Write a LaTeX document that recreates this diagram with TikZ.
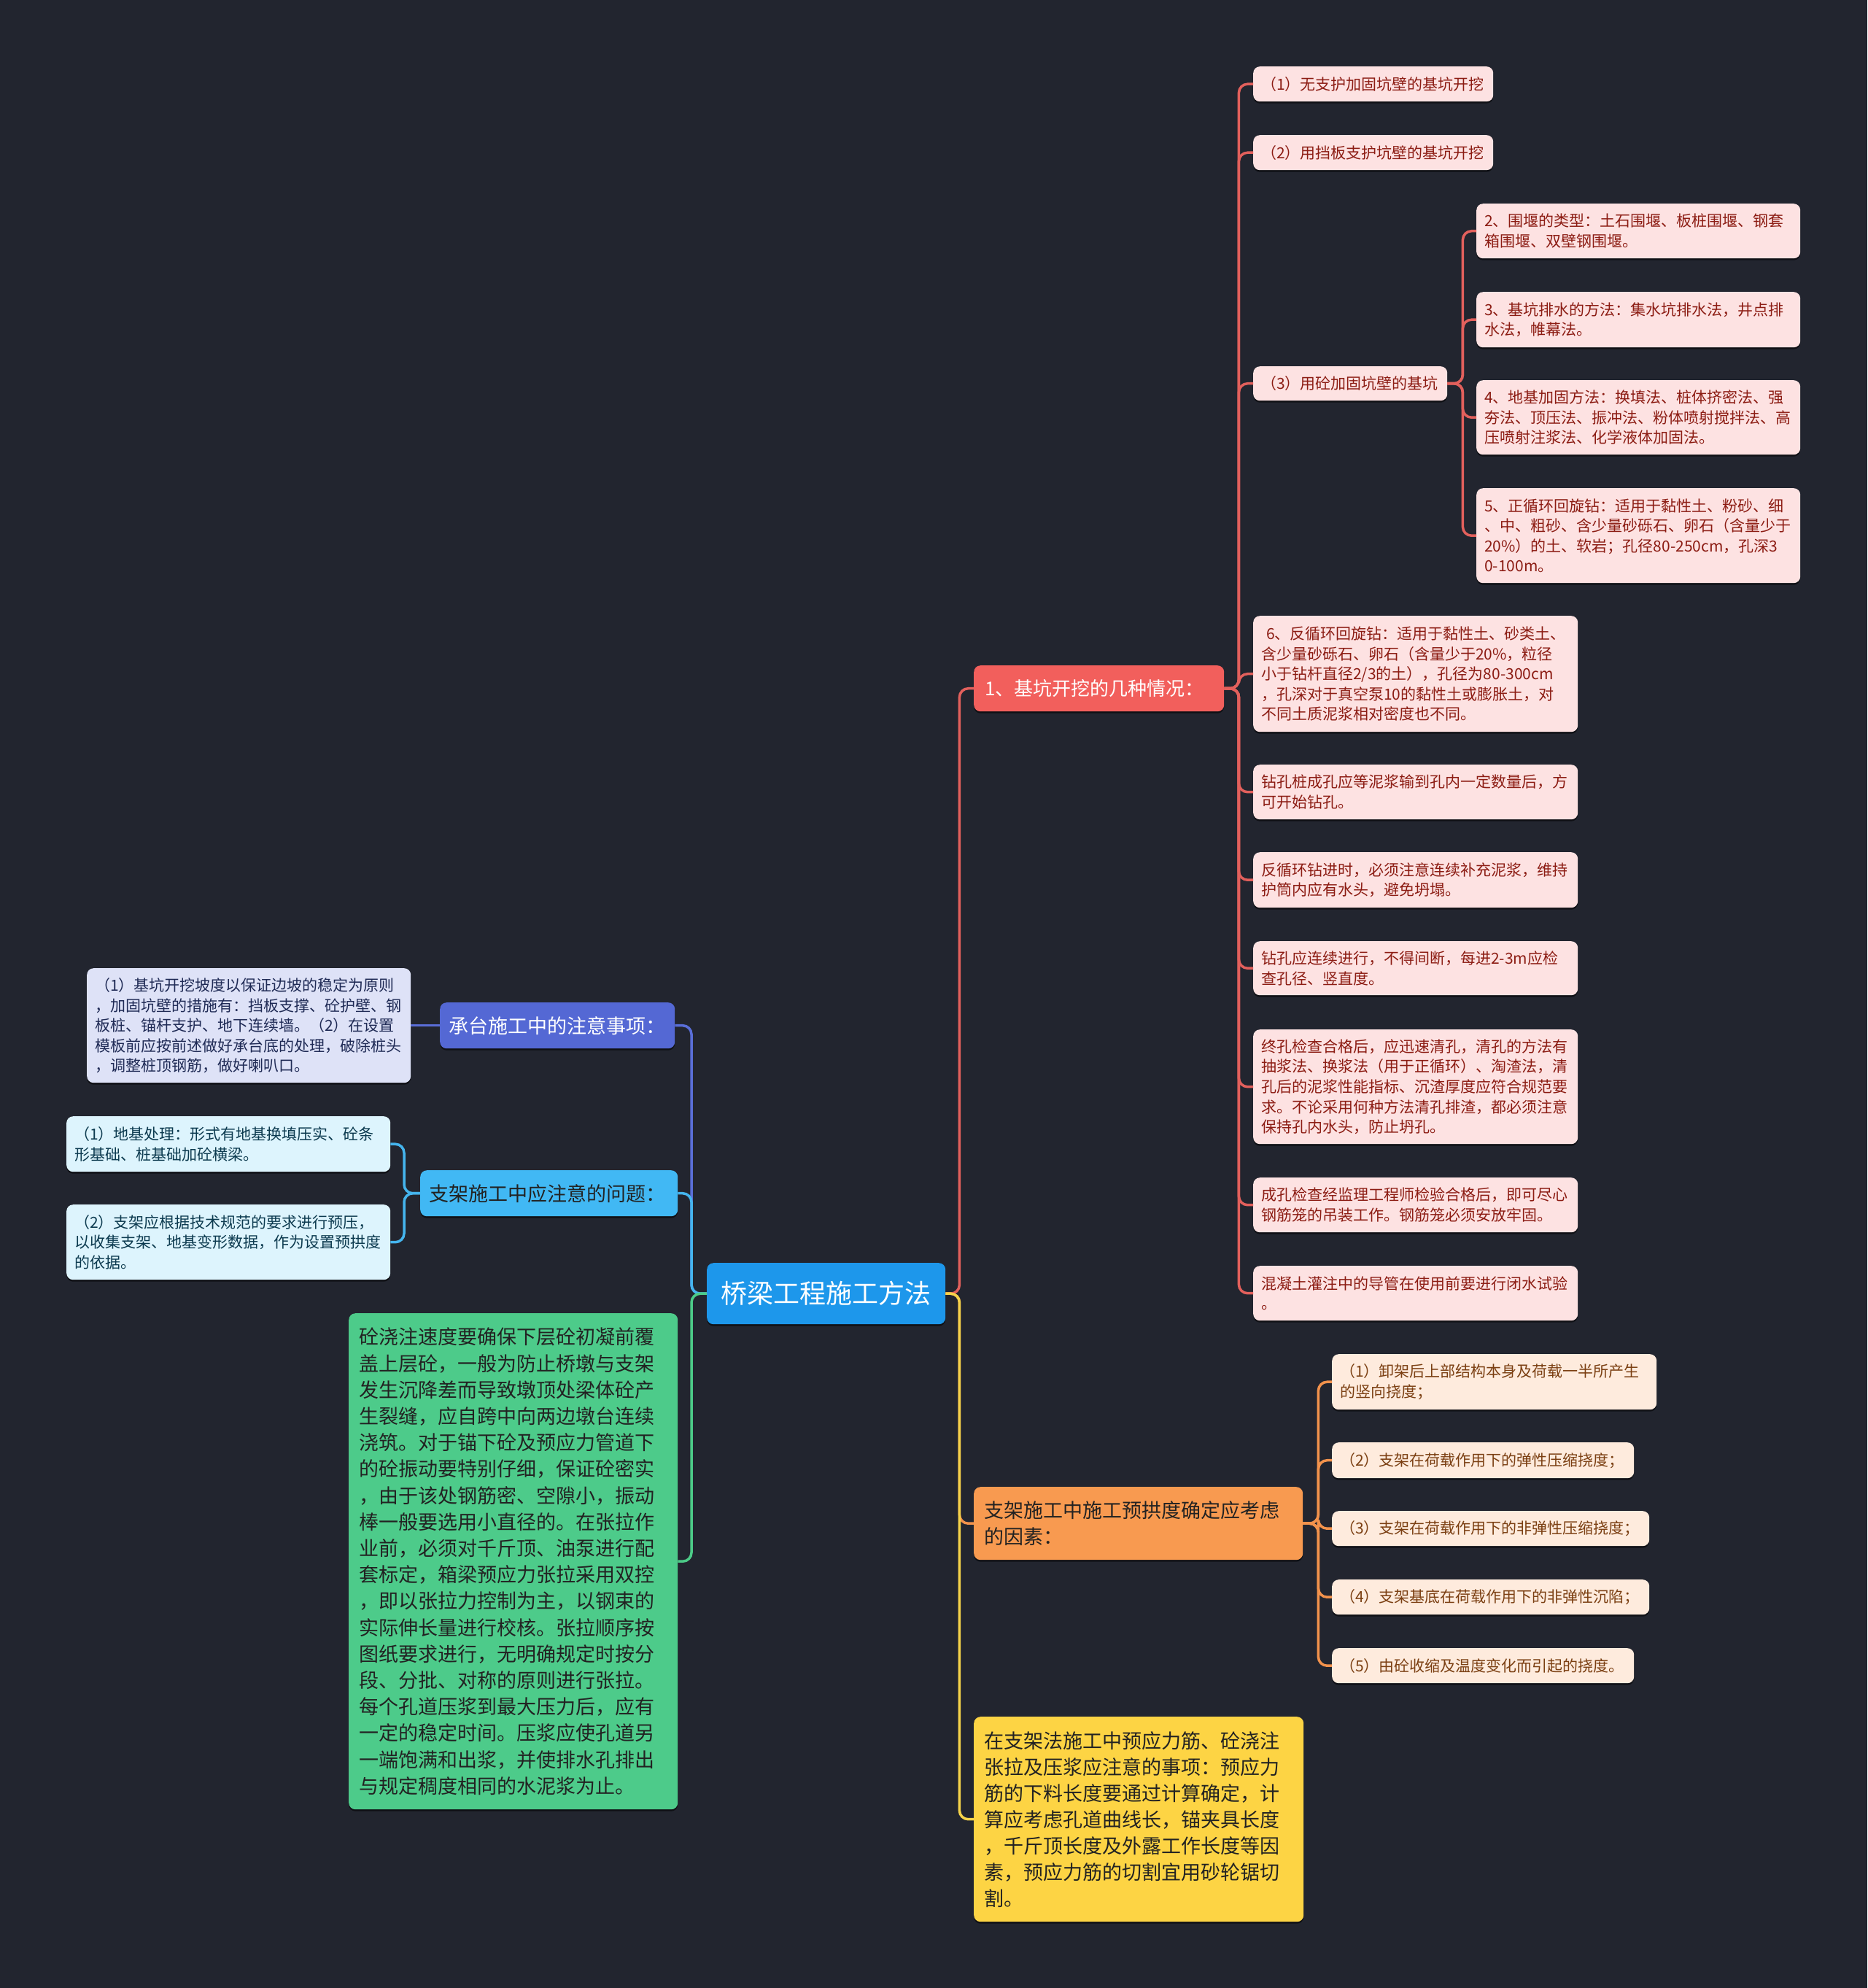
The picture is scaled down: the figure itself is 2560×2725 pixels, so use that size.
\documentclass[tikz,border=0pt]{standalone}
\usepackage{fontspec}
\setmainfont{Noto Sans CJK SC}
\usetikzlibrary{shadows}
\definecolor{bg}{HTML}{22252F}
\definecolor{rootfill}{HTML}{1D97EB}
\definecolor{redfill}{HTML}{F25F5C}
\definecolor{redleaf}{HTML}{FDE2E2}
\definecolor{redtext}{HTML}{8C1C13}
\definecolor{redline}{HTML}{E2605C}
\definecolor{orfill}{HTML}{F89A50}
\definecolor{orleaf}{HTML}{FEEBDD}
\definecolor{ortext}{HTML}{7B3F12}
\definecolor{orline}{HTML}{F2924C}
\definecolor{yelfill}{HTML}{FDD444}
\definecolor{yelline}{HTML}{F5D34A}
\definecolor{grfill}{HTML}{4DCB8A}
\definecolor{grline}{HTML}{4CCB88}
\definecolor{infill}{HTML}{5468D4}
\definecolor{inleaf}{HTML}{DEE2F7}
\definecolor{intext}{HTML}{1F2A55}
\definecolor{inline}{HTML}{5A6ED8}
\definecolor{lbfill}{HTML}{41B8F4}
\definecolor{lbleaf}{HTML}{DDF4FD}
\definecolor{lbtext}{HTML}{0C3A4F}
\definecolor{lbline}{HTML}{45B5EE}
\definecolor{darktext}{HTML}{222222}
\tikzset{
  basebox/.style={rounded corners=9pt, anchor=north west, inner ysep=0pt, align=left,
    drop shadow={shadow xshift=0pt, shadow yshift=-2.5pt, opacity=0.55, fill=black}},
  fsmall/.style={font=\fontsize{21}{27.5}\selectfont},
  fmid/.style={font=\fontsize{27}{36}\selectfont},
  rleaf/.style={basebox, fsmall, fill=redleaf, text=redtext, inner xsep=11pt},
  oleaf/.style={basebox, fsmall, fill=orleaf, text=ortext, inner xsep=11pt},
  ileaf/.style={basebox, fsmall, fill=inleaf, text=intext, inner xsep=11pt},
  cleaf/.style={basebox, fsmall, fill=lbleaf, text=lbtext, inner xsep=11pt},
  mainbox/.style={basebox, fmid, inner xsep=14pt},
  conn/.style={line width=3.5pt, rounded corners=12pt},
}
\begin{document}
\begin{tikzpicture}[x=1pt,y=-1pt]
\fill[bg] (0,0) rectangle (2560,2725);
\useasboundingbox (0,0) rectangle (2560,2725);

% root
\node[basebox, fill=rootfill, text=white, font=\fontsize{36}{44}\selectfont, align=center,
  minimum width=327pt, minimum height=84pt, inner xsep=0pt] (root) at (969,1731) {桥梁工程施工方法};

% red branch
\node[mainbox, fill=redfill, text=white, font=\fontsize{26}{34}\selectfont, text width=313pt, minimum height=63pt, inner xsep=15pt] (r1) at (1335,912) {1、基坑开挖的几种情况：};
\node[rleaf, text width=307pt, minimum height=48pt] (rA) at (1718,91) {（1）无支护加固坑壁的基坑开挖};
\node[rleaf, text width=307pt, minimum height=48pt] (rB) at (1718,185) {（2）用挡板支护坑壁的基坑开挖};
\node[rleaf, text width=244pt, minimum height=47pt] (rC) at (1718,502) {（3）用砼加固坑壁的基坑};
\node[rleaf, text width=422pt, minimum height=75pt] (rC1) at (2024,279) {2、围堰的类型：土石围堰、板桩围堰、钢套\\箱围堰、双壁钢围堰。};
\node[rleaf, text width=422pt, minimum height=76pt] (rC2) at (2024,400) {3、基坑排水的方法：集水坑排水法，井点排\\水法，帷幕法。};
\node[rleaf, text width=422pt, minimum height=102pt] (rC3) at (2024,521) {4、地基加固方法：换填法、桩体挤密法、强\\夯法、顶压法、振冲法、粉体喷射搅拌法、高\\压喷射注浆法、化学液体加固法。};
\node[rleaf, text width=422pt, minimum height=130pt] (rC4) at (2024,669) {5、正循环回旋钻：适用于黏性土、粉砂、细\\、中、粗砂、含少量砂砾石、卵石（含量少于\\20\%）的土、软岩；孔径80-250cm，孔深3\\0-100m。};
\node[rleaf, text width=423pt, minimum height=159pt] (rD) at (1718,844) {\ 6、反循环回旋钻：适用于黏性土、砂类土、\\含少量砂砾石、卵石（含量少于20\%，粒径\\小于钻杆直径2/3的土），孔径为80-300cm\\，孔深对于真空泵10的黏性土或膨胀土，对\\不同土质泥浆相对密度也不同。};
\node[rleaf, text width=423pt, minimum height=75pt] (rE) at (1718,1048) {钻孔桩成孔应等泥浆输到孔内一定数量后，方\\可开始钻孔。};
\node[rleaf, text width=423pt, minimum height=76pt] (rF) at (1718,1168) {反循环钻进时，必须注意连续补充泥浆，维持\\护筒内应有水头，避免坍塌。};
\node[rleaf, text width=423pt, minimum height=74pt] (rG) at (1718,1290) {钻孔应连续进行，不得间断，每进2-3m应检\\查孔径、竖直度。};
\node[rleaf, text width=423pt, minimum height=157pt] (rH) at (1718,1411) {终孔检查合格后，应迅速清孔，清孔的方法有\\抽浆法、换浆法（用于正循环）、淘渣法，清\\孔后的泥浆性能指标、沉渣厚度应符合规范要\\求。不论采用何种方法清孔排渣，都必须注意\\保持孔内水头，防止坍孔。};
\node[rleaf, text width=423pt, minimum height=75pt] (rI) at (1718,1614) {成孔检查经监理工程师检验合格后，即可尽心\\钢筋笼的吊装工作。钢筋笼必须安放牢固。};
\node[rleaf, text width=423pt, minimum height=75pt] (rJ) at (1718,1735) {混凝土灌注中的导管在使用前要进行闭水试验\\。};

% orange branch
\node[mainbox, fill=orfill, text=darktext, text width=423pt, minimum height=100pt] (o1) at (1335,2038) {支架施工中施工预拱度确定应考虑\\的因素：};
\node[oleaf, text width=423pt, minimum height=76pt] (oA) at (1826,1856) {（1）卸架后上部结构本身及荷载一半所产生\\的竖向挠度；};
\node[oleaf, text width=392pt, minimum height=49pt] (oB) at (1826,1977) {（2）支架在荷载作用下的弹性压缩挠度；};
\node[oleaf, text width=413pt, minimum height=48pt] (oC) at (1826,2071) {（3）支架在荷载作用下的非弹性压缩挠度；};
\node[oleaf, text width=413pt, minimum height=48pt] (oD) at (1826,2165) {（4）支架基底在荷载作用下的非弹性沉陷；};
\node[oleaf, text width=392pt, minimum height=48pt] (oE) at (1826,2259) {（5）由砼收缩及温度变化而引起的挠度。};

% yellow
\node[mainbox, fill=yelfill, text=darktext, text width=424pt, minimum height=281pt] (y1) at (1335,2353) {在支架法施工中预应力筋、砼浇注\\张拉及压浆应注意的事项：预应力\\筋的下料长度要通过计算确定，计\\算应考虑孔道曲线长，锚夹具长度\\，千斤顶长度及外露工作长度等因\\素，预应力筋的切割宜用砂轮锯切\\割。};

% left side
\node[mainbox, fill=infill, text=white, text width=298pt, minimum height=63pt, inner xsep=12pt] (ct) at (603,1374) {承台施工中的注意事项：};
\node[ileaf, text width=422pt, minimum height=157pt] (ctA) at (119,1327) {（1）基坑开挖坡度以保证边坡的稳定为原则\\，加固坑壁的措施有：挡板支撑、砼护壁、钢\\板桩、锚杆支护、地下连续墙。（2）在设置\\模板前应按前述做好承台底的处理，破除桩头\\，调整桩顶钢筋，做好喇叭口。};

\node[mainbox, fill=lbfill, text=darktext, text width=329pt, minimum height=63pt, inner xsep=12pt] (zj) at (576,1604) {支架施工中应注意的问题：};
\node[cleaf, text width=422pt, minimum height=76pt] (zjA) at (91,1530) {（1）地基处理：形式有地基换填压实、砼条\\形基础、桩基础加砼横梁。};
\node[cleaf, text width=422pt, minimum height=103pt] (zjB) at (91,1651) {（2）支架应根据技术规范的要求进行预压，\\以收集支架、地基变形数据，作为设置预拱度\\的依据。};

\node[mainbox, fill=grfill, text=darktext, text width=423pt, minimum height=680pt, font=\fontsize{27}{36.2}\selectfont] (gr) at (478,1800) {砼浇注速度要确保下层砼初凝前覆\\盖上层砼，一般为防止桥墩与支架\\发生沉降差而导致墩顶处梁体砼产\\生裂缝，应自跨中向两边墩台连续\\浇筑。对于锚下砼及预应力管道下\\的砼振动要特别仔细，保证砼密实\\，由于该处钢筋密、空隙小，振动\\棒一般要选用小直径的。在张拉作\\业前，必须对千斤顶、油泵进行配\\套标定，箱梁预应力张拉采用双控\\，即以张拉力控制为主，以钢束的\\实际伸长量进行校核。张拉顺序按\\图纸要求进行，无明确规定时按分\\段、分批、对称的原则进行张拉。\\每个孔道压浆到最大压力后，应有\\一定的稳定时间。压浆应使孔道另\\一端饱满和出浆，并使排水孔排出\\与规定稠度相同的水泥浆为止。};

% connectors: root right
\draw[conn, redline] (root.east) -- ++(19,0) |- (r1.west);
\draw[conn, orline] (root.east) -- ++(19,0) |- (o1.west);
\draw[conn, yelline] (root.east) -- ++(19,0) |- (y1.west);
% root left
\draw[conn, inline] (root.west) -- ++(-21,0) |- (ct.east);
\draw[conn, lbline] (root.west) -- ++(-21,0) |- (zj.east);
\draw[conn, grline] (root.west) -- ++(-21,0) |- (gr.east);
% red children
\foreach \c in {rA,rB,rC,rD,rE,rF,rG,rH,rI,rJ}
  \draw[conn, redline] (r1.east) -- ++(20,0) |- (\c.west);
\foreach \c in {rC1,rC2,rC3,rC4}
  \draw[conn, redline] (rC.east) -- ++(21,0) |- (\c.west);
% orange children
\foreach \c in {oA,oB,oC,oD,oE}
  \draw[conn, orline] (o1.east) -- ++(21,0) |- (\c.west);
% left children
\draw[conn, inline] (ct.west) -- (ctA.east);
\foreach \c in {zjA,zjB}
  \draw[conn, lbline] (zj.west) -- ++(-22,0) |- (\c.east);
\end{tikzpicture}
\end{document}
